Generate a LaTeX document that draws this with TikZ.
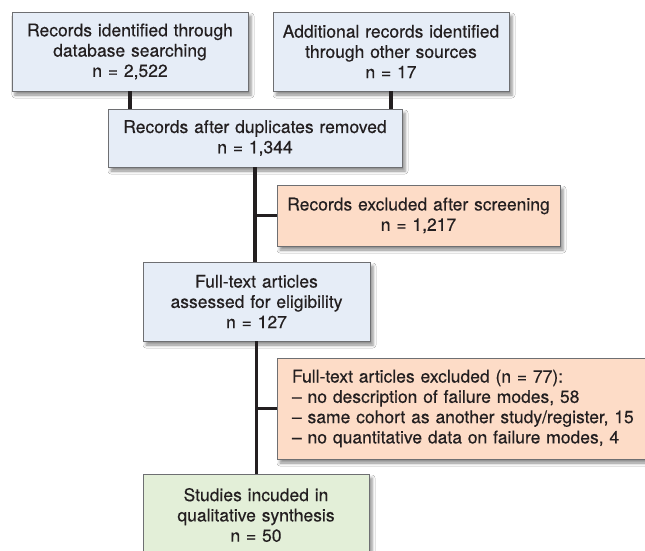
\documentclass[tikz,border=0pt]{standalone}
\usepackage{fontspec}
\setmainfont{TeX Gyre Heros}[FakeBold=0.4]
\usetikzlibrary{shadows.blur}
\definecolor{boxblue}{HTML}{E6EDF7}
\definecolor{boxorange}{HTML}{FDDCC7}
\definecolor{boxgreen}{HTML}{E3EFD8}
\definecolor{boxline}{HTML}{6E6F72}
\definecolor{linkline}{HTML}{231F20}
\begin{document}
\begin{tikzpicture}[x=1pt,y=-1pt,
  box/.style={draw=boxline,line width=0.8pt,inner sep=0pt,align=center,
    font=\fontsize{17.5}{20.3}\selectfont,text=linkline,
    blur shadow={shadow xshift=3pt,shadow yshift=-4pt,shadow blur radius=3pt,shadow opacity=45}},
  link/.style={draw=linkline,line width=3.3pt}]
\useasboundingbox (0,0) rectangle (645,551);
\clip (0,0) rectangle (645,551);
\fill[white] (0,0) rectangle (645,551);

% identification
\node[box,fill=boxblue,text width=236pt,minimum height=79pt] (db) at (130,51.5)
  {Records identified through\\database searching\\n = 2,522};
\node[box,fill=boxblue,text width=236pt,minimum height=79pt] (other) at (391,51.5)
  {Additional records identified\\through other sources\\n = 17};

% screening
\node[box,fill=boxblue,text width=294pt,minimum height=58pt] (dup) at (255,138)
  {Records after duplicates removed\\n = 1,344};
\node[box,fill=boxorange,text width=283pt,minimum height=61pt] (excl) at (418.5,215.5)
  {Records excluded after screening\\n = 1,217};

% eligibility
\node[box,fill=boxblue,text width=227pt,minimum height=79pt] (full) at (256.5,301.5)
  {Full-text articles\\assessed for eligibility\\n = 127};
\node[box,fill=boxorange,text width=353pt,inner xsep=15pt,align=left,minimum height=101pt] (fullexcl) at (468.5,408.5)
  {Full-text articles excluded (n = 77):\\– no description of failure modes, 58\\– same cohort as another study/register, 15\\– no quantitative data on failure modes, 4};

% included
\node[box,fill=boxgreen,text width=226pt,minimum height=82pt] (incl) at (256,515)
  {Studies incuded in\\qualitative synthesis\\n = 50};

\draw[link] (db.south) -- (db.south |- dup.north);
\draw[link] (other.south) -- (other.south |- dup.north);
\draw[link] (dup.south) -- (dup.south |- full.north);
\draw[link] (dup.south |- excl.west) -- (excl.west);
\draw[link] (full.south) -- (full.south |- incl.north);
\draw[link] (full.south |- fullexcl.west) -- (fullexcl.west);
\end{tikzpicture}
\end{document}
